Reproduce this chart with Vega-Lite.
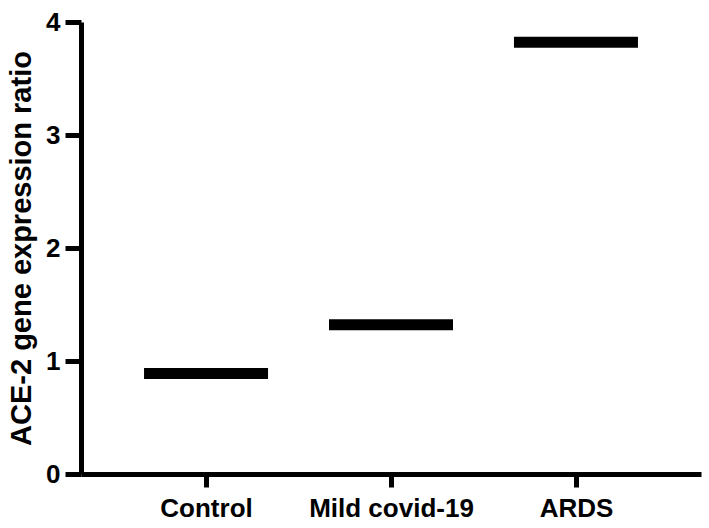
{
  "$schema": "https://vega.github.io/schema/vega-lite/v6.json",
  "autosize": "none",
  "width": 620,
  "height": 452,
  "padding": {"left": 81, "top": 22, "right": 8, "bottom": 54},
  "background": "white",
  "config": {
    "font": "Liberation Sans",
    "view": {"stroke": null},
    "axis": {
      "domainColor": "black",
      "domainWidth": 5,
      "tickColor": "black",
      "tickWidth": 5,
      "labelColor": "black",
      "labelFontWeight": "bold",
      "titleColor": "black",
      "titleFontWeight": "bold",
      "grid": false
    }
  },
  "data": {
    "values": [
      {"group": "Control", "ratio": 0.89},
      {"group": "Mild covid-19", "ratio": 1.32},
      {"group": "ARDS", "ratio": 3.82}
    ]
  },
  "mark": {"type": "tick", "color": "black", "thickness": 11, "size": 124, "opacity": 1},
  "encoding": {
    "x": {
      "field": "group",
      "type": "nominal",
      "sort": ["Control", "Mild covid-19", "ARDS"],
      "scale": {"type": "point", "padding": 0.676},
      "axis": {
        "title": null,
        "labelAngle": 0,
        "labelFontSize": 26,
        "labelPadding": 8,
        "tickSize": 13
      }
    },
    "y": {
      "field": "ratio",
      "type": "quantitative",
      "scale": {"domain": [0, 4], "nice": false},
      "axis": {
        "title": "ACE-2 gene expression ratio",
        "titleFontSize": 29,
        "titlePadding": 9,
        "values": [0, 1, 2, 3, 4],
        "labelFontSize": 26,
        "labelPadding": 5,
        "tickSize": 16
      }
    }
  }
}
